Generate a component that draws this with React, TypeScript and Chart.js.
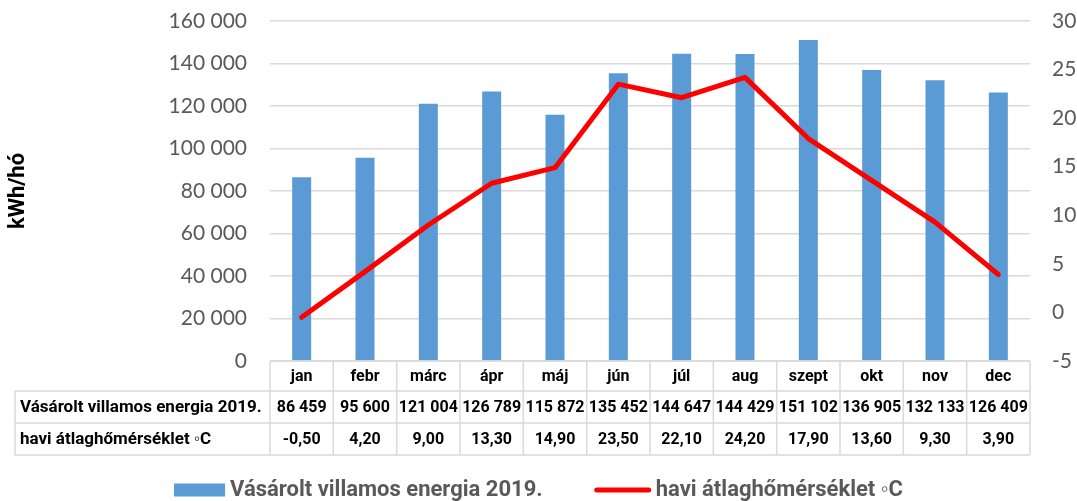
import React, { useEffect, useRef } from 'react';
import { Chart, registerables } from 'chart.js';
Chart.register(...registerables);

const months = ['jan', 'febr', 'márc', 'ápr', 'máj', 'jún', 'júl', 'aug', 'szept', 'okt', 'nov', 'dec'];
const energy = [86459, 95600, 121004, 126789, 115872, 135452, 144647, 144429, 151102, 136905, 132133, 126409];
const temps = [-0.5, 4.2, 9.0, 13.3, 14.9, 23.5, 22.1, 24.2, 17.9, 13.6, 9.3, 3.9];
const energyLabel = 'Vásárolt villamos energia 2019.';
const tempLabel = 'havi átlaghőmérséklet ◦C';
const yAxisTitle = 'kWh/hó';

const BAR_COLOR = '#5b9bd5';
const LINE_COLOR = '#ff0000';
const GRID_COLOR = '#d9d9d9';
const TEXT_GRAY = '#595959';
const FONT = 'Lato, "Open Sans", sans-serif';
const BOLD_FONT = 'Roboto, "Open Sans", sans-serif';
const TRANSPARENT = 'rgba(0,0,0,0)';

const fmtThousands = (v: number) => String(Math.round(v)).replace(/\B(?=(\d{3})+(?!\d))/g, ' ');
const fmtTemp = (v: number) => v.toFixed(2).replace('.', ',');

const tablePlugin = {
  id: 'dataTable',
  afterDraw(chart: any) {
    const { ctx, chartArea, scales } = chart;
    const xs = scales.x;
    const n = months.length;
    const catW = (chartArea.right - chartArea.left) / n;
    const tableLeft = 15;
    const y0 = chartArea.bottom;
    const y1 = y0 + 30;
    const y2 = y1 + 32;
    const y3 = y2 + 32;
    ctx.save();
    ctx.strokeStyle = GRID_COLOR;
    ctx.lineWidth = 1.5;
    ctx.beginPath();
    ctx.moveTo(chartArea.left, y0);
    ctx.lineTo(chartArea.right, y0);
    [y1, y2, y3].forEach((y) => {
      ctx.moveTo(tableLeft, y);
      ctx.lineTo(chartArea.right, y);
    });
    for (let i = 0; i <= n; i++) {
      const x = xs.getPixelForValue(0) - catW / 2 + i * catW;
      ctx.moveTo(x, y0);
      ctx.lineTo(x, y3);
    }
    ctx.moveTo(tableLeft, y1);
    ctx.lineTo(tableLeft, y3);
    ctx.stroke();

    ctx.fillStyle = '#000000';
    ctx.textBaseline = 'middle';
    ctx.textAlign = 'center';
    ctx.font = `bold 16px ${BOLD_FONT}`;
    for (let i = 0; i < n; i++) {
      const cx = xs.getPixelForValue(i);
      ctx.fillText(months[i], cx, (y0 + y1) / 2 + 1);
      ctx.fillText(fmtThousands(energy[i]), cx, (y1 + y2) / 2 + 1);
      ctx.fillText(fmtTemp(temps[i]), cx, (y2 + y3) / 2 + 1);
    }
    ctx.textAlign = 'left';
    ctx.font = `bold 17px ${BOLD_FONT}`;
    ctx.fillText(energyLabel, tableLeft + 5, (y1 + y2) / 2 + 1);
    ctx.fillText(tempLabel, tableLeft + 5, (y2 + y3) / 2 + 1);
    ctx.restore();
  },
};

const legendPlugin = {
  id: 'customLegend',
  afterDraw(chart: any) {
    const { ctx, width } = chart;
    ctx.save();
    ctx.font = `bold 22px ${BOLD_FONT}`;
    ctx.textBaseline = 'middle';
    ctx.textAlign = 'left';
    const boxW = 51, boxH = 13, lineW = 56, gapText = 5, gapItems = 52;
    const t1 = ctx.measureText(energyLabel).width;
    const t2 = ctx.measureText(tempLabel).width;
    const total = boxW + gapText + t1 + gapItems + lineW + gapText + t2;
    let x = (width - total) / 2;
    const cy = 490;
    ctx.fillStyle = BAR_COLOR;
    ctx.fillRect(x, cy - boxH / 2, boxW, boxH);
    x += boxW + gapText;
    ctx.fillStyle = TEXT_GRAY;
    ctx.fillText(energyLabel, x, cy);
    x += t1 + gapItems;
    ctx.strokeStyle = LINE_COLOR;
    ctx.lineWidth = 5;
    ctx.lineCap = 'round';
    ctx.beginPath();
    ctx.moveTo(x + 2, cy);
    ctx.lineTo(x + lineW - 2, cy);
    ctx.stroke();
    x += lineW + gapText;
    ctx.fillStyle = TEXT_GRAY;
    ctx.fillText(tempLabel, x, cy);
    ctx.restore();
  },
};

export default function App() {
  const canvasRef = useRef<HTMLCanvasElement | null>(null);

  useEffect(() => {
    if (!canvasRef.current) return;
    const chart = new Chart(canvasRef.current, {
      type: 'bar',
      data: {
        labels: months,
        datasets: [
          {
            type: 'line',
            label: tempLabel,
            data: temps,
            yAxisID: 'y1',
            borderColor: LINE_COLOR,
            backgroundColor: LINE_COLOR,
            borderWidth: 5,
            pointRadius: 0,
            tension: 0,
            borderCapStyle: 'round',
            borderJoinStyle: 'round',
            order: 0,
          } as any,
          {
            type: 'bar',
            label: energyLabel,
            data: energy,
            yAxisID: 'y',
            backgroundColor: BAR_COLOR,
            barPercentage: 0.3,
            categoryPercentage: 1,
            order: 1,
          },
        ],
      },
      options: {
        responsive: false,
        animation: false,
        layout: { padding: { top: 21, left: 0, right: 0, bottom: 0 } },
        plugins: {
          legend: { display: false },
          tooltip: { enabled: false },
        },
        scales: {
          x: {
            grid: { display: false },
            border: { display: false },
            ticks: { display: false },
            afterFit: (s: any) => { s.height = 140; },
          },
          y: {
            position: 'left',
            min: 0,
            max: 160000,
            grid: { color: GRID_COLOR, lineWidth: 1.5, drawTicks: true, tickLength: 23, tickColor: TRANSPARENT },
            border: { display: false },
            ticks: {
              stepSize: 20000,
              padding: 0,
              color: TEXT_GRAY,
              font: { family: FONT, size: 21 },
              callback: (v: any) => fmtThousands(Number(v)),
            },
            title: {
              display: true,
              text: yAxisTitle,
              color: '#000000',
              font: { family: BOLD_FONT, size: 22, weight: 'bold' },
              padding: { top: 5, bottom: 0 },
            },
            afterFit: (s: any) => { s.width = 270; },
          },
          y1: {
            position: 'right',
            min: -5,
            max: 30,
            grid: { display: true, drawOnChartArea: false, color: TRANSPARENT, drawTicks: true, tickLength: 22, tickColor: TRANSPARENT },
            border: { display: false },
            ticks: {
              stepSize: 5,
              padding: 0,
              color: TEXT_GRAY,
              font: { family: FONT, size: 21 },
            },
            afterFit: (s: any) => { s.width = 47; },
          },
        },
      },
      plugins: [tablePlugin, legendPlugin],
    });
    return () => chart.destroy();
  }, []);

  return (
    <div style={{ position: 'fixed', left: 0, top: 0, width: 1077, height: 501, background: '#ffffff' }}>
      <canvas ref={canvasRef} width={1077} height={501} style={{ width: 1077, height: 501 }} />
    </div>
  );
}
